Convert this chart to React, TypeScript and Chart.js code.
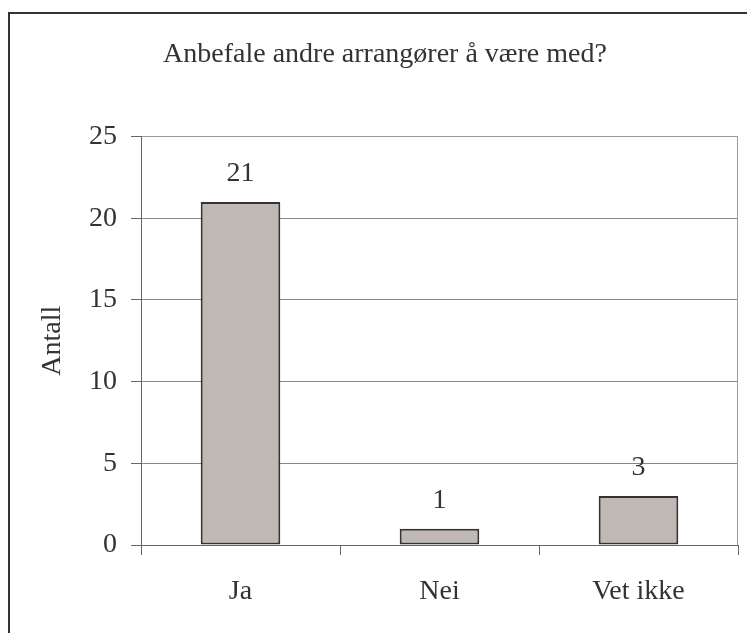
import React, { useEffect, useRef } from "react";
import { Chart, registerables } from "chart.js";

Chart.register(...registerables);

const TITLE = "Anbefale andre arrangører å være med?";
const Y_TITLE = "Antall";
const CATEGORIES = ["Ja", "Nei", "Vet ikke"];
const VALUES = [21, 1, 3];
const Y_MIN = 0;
const Y_MAX = 25;
const Y_STEP = 5;

const FONT_FAMILY = "'Liberation Serif', 'Times New Roman', serif";
const TEXT_COLOR = "#333333";
const FONT_SIZE = 28;

const framePlugin = {
  id: "frame",
  beforeDraw(chart: any) {
    const { ctx, width, height } = chart;
    ctx.save();
    ctx.fillStyle = "#ffffff";
    ctx.fillRect(0, 0, width, height);
    ctx.strokeStyle = "#333333";
    ctx.lineWidth = 2;
    ctx.beginPath();
    ctx.moveTo(9, height + 5);
    ctx.lineTo(9, 13);
    ctx.lineTo(width + 5, 13);
    ctx.stroke();
    ctx.restore();
  },
  afterDraw(chart: any) {
    const { ctx, chartArea } = chart;
    ctx.save();
    ctx.strokeStyle = "#a09898";
    ctx.lineWidth = 1;
    ctx.beginPath();
    ctx.moveTo(chartArea.right - 0.5, chartArea.top);
    ctx.lineTo(chartArea.right - 0.5, chartArea.bottom);
    ctx.stroke();
    ctx.restore();
  },
};

const valueLabelPlugin = {
  id: "valueLabels",
  afterDatasetsDraw(chart: any) {
    const { ctx } = chart;
    const meta = chart.getDatasetMeta(0);
    const data = chart.data.datasets[0].data;
    ctx.save();
    ctx.font = `${FONT_SIZE}px ${FONT_FAMILY}`;
    ctx.fillStyle = TEXT_COLOR;
    ctx.textAlign = "center";
    ctx.textBaseline = "alphabetic";
    meta.data.forEach((bar: any, i: number) => {
      ctx.fillText(String(data[i]), bar.x, bar.y - 21);
    });
    ctx.restore();
  },
};

export default function App() {
  const canvasRef = useRef<HTMLCanvasElement | null>(null);

  useEffect(() => {
    if (!canvasRef.current) return;
    const chart = new Chart(canvasRef.current, {
      type: "bar",
      data: {
        labels: CATEGORIES,
        datasets: [
          {
            data: VALUES,
            backgroundColor: "#c0b8b5",
            borderColor: "#333333",
            borderWidth: 2,
            borderSkipped: false,
            barPercentage: 0.4,
            categoryPercentage: 1,
          },
        ],
      },
      options: {
        responsive: false,
        animation: false,
        maintainAspectRatio: false,
        layout: { padding: { left: 32, right: 9, top: 0, bottom: 0 } },
        plugins: {
          legend: { display: false },
          tooltip: { enabled: false },
          title: {
            display: true,
            text: TITLE,
            color: TEXT_COLOR,
            font: { family: FONT_FAMILY, size: FONT_SIZE, weight: "normal" },
            padding: { top: 38, bottom: 65 },
          },
        },
        scales: {
          x: {
            offset: true,
            grid: {
              offset: true,
              drawOnChartArea: false,
              drawTicks: true,
              tickLength: 10,
              tickColor: "#666666",
            },
            border: { color: "#666666", width: 1 },
            ticks: {
              color: TEXT_COLOR,
              font: { family: FONT_FAMILY, size: FONT_SIZE },
              padding: 20,
              maxRotation: 0,
            },
            afterFit(scale: any) {
              scale.height = 88;
            },
          },
          y: {
            min: Y_MIN,
            max: Y_MAX,
            grid: {
              color: (ctx: any) =>
                ctx.tick && ctx.tick.value === Y_MAX ? "#a09898" : "#888888",
              tickLength: 10,
              tickColor: "#666666",
            },
            border: { color: "#666666", width: 1 },
            ticks: {
              stepSize: Y_STEP,
              color: TEXT_COLOR,
              font: { family: FONT_FAMILY, size: FONT_SIZE },
              padding: 14,
            },
            title: {
              display: true,
              text: Y_TITLE,
              color: TEXT_COLOR,
              font: { family: FONT_FAMILY, size: FONT_SIZE },
              padding: { top: 4, bottom: 0 },
            },
            afterFit(scale: any) {
              scale.width = 109;
            },
          },
        },
      },
      plugins: [framePlugin, valueLabelPlugin],
    });
    return () => chart.destroy();
  }, []);

  return (
    <div style={{ position: "fixed", left: 0, top: 0, width: 747, height: 633, overflow: "hidden", background: "#fff" }}>
      <canvas ref={canvasRef} width={747} height={633} style={{ display: "block", width: 747, height: 633 }} />
    </div>
  );
}
